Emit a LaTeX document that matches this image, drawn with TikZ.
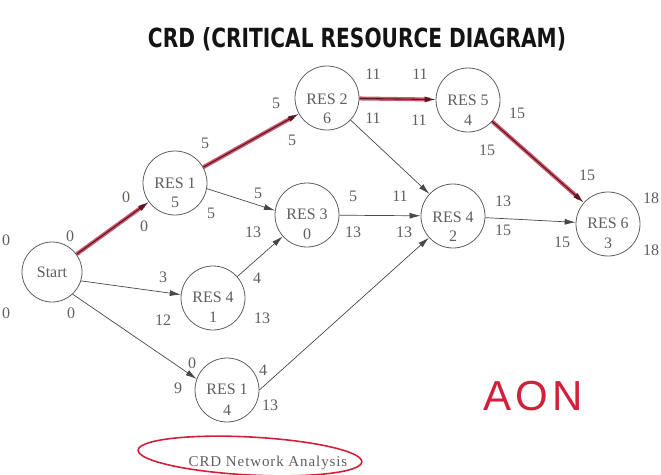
\documentclass[tikz,border=0pt]{standalone}
\usepackage{fontspec}
\setmainfont{Liberation Serif}
\setsansfont{DejaVu Sans}
\newfontfamily\handfont{Liberation Sans}
\usetikzlibrary{arrows.meta}

\definecolor{inkgray}{HTML}{5E5E5E}
\definecolor{linegray}{HTML}{484848}
\definecolor{critred}{HTML}{C83A52}
\definecolor{critdark}{HTML}{5A1822}
\definecolor{penred}{HTML}{D2203A}

% critical-path connector: red marker stroke under a dark line
\newcommand\critlink[2]{%
  \draw[critglow] (#1) -- (#2);
  \draw[critcore] (#1) -- (#2);}

\begin{document}
\begin{tikzpicture}[x=1pt,y=-1pt,
  every node/.style={text=inkgray, font=\fontsize{16}{16}\selectfont},
  res/.style={circle, draw=inkgray, line width=0.8pt, minimum size=64pt, inner sep=0pt},
  num/.style={inner sep=0pt},
  link/.style={draw=linegray, line width=0.7pt, -{Latex[length=11pt,width=6pt]}},
  critglow/.style={draw=critred, line width=4pt, shorten >=6pt, opacity=0.85},
  critcore/.style={draw=critdark, line width=1.1pt, -{Latex[length=11pt,width=6pt]}},
]
\useasboundingbox (0,0) rectangle (661,474);
\clip (0,0) rectangle (661,474);

% heading
\node[anchor=base, text=black!92] (title) at (357,47)
  {\resizebox{418pt}{20pt}{\sffamily\bfseries CRD (CRITICAL RESOURCE DIAGRAM)}};

% activity circles
\node[res, minimum size=60pt] (start) at (52,272) {Start};
\node[res] (r1a) at (175,183) {};
\node[res] (r2)  at (327,98)  {};
\node[res] (r5)  at (468,100) {};
\node[res] (r3)  at (307,215) {};
\node[res] (r4a) at (453,216) {};
\node[res] (r6)  at (608,224) {};
\node[res] (r4b) at (213,298) {};
\node[res] (r1b) at (227,390) {};

% resource names and durations
\node[num] (r1a-t) at (175,183) {RES 1}; \node[num] (r1a-d) at (175,202) {5};
\node[num] (r2-t)  at (327,99)  {RES 2}; \node[num] (r2-d)  at (327,118) {6};
\node[num] (r5-t)  at (468,100) {RES 5}; \node[num] (r5-d)  at (468,120) {4};
\node[num] (r3-t)  at (307,214) {RES 3}; \node[num] (r3-d)  at (307,234) {0};
\node[num] (r4a-t) at (453,217) {RES 4}; \node[num] (r4a-d) at (453,236) {2};
\node[num] (r6-t)  at (608,223) {RES 6}; \node[num] (r6-d)  at (608,243) {3};
\node[num] (r4b-t) at (213,297) {RES 4}; \node[num] (r4b-d) at (213,317) {1};
\node[num] (r1b-t) at (227,389) {RES 1}; \node[num] (r1b-d) at (227,410) {4};

% connectors
\critlink{start}{r1a}
\critlink{r1a}{r2}
\critlink{r2}{r5}
\critlink{r5}{r6}
\draw[link] (r1a.-10) -- (r3.172);
\draw[link] (start.-17) -- (r4b.174);
\draw[link] (start.-47) -- (r1b.160);
\draw[link] (r4b) -- (r3);
\draw[link] (r3) -- (r4a);
\draw[link] (r2) -- (r4a);
\draw[link] (r1b.east) -- (r4a);
\draw[link] (r4a) -- (r6);

% start and finish times
\node[num] (s-a) at (6,240) {0};
\node[num] (s-b) at (70,236) {0};
\node[num] (s-c) at (6,313) {0};
\node[num] (s-d) at (71,313) {0};
\node[num] (a-a) at (126,197) {0};
\node[num] (a-b) at (144,226) {0};
\node[num] (a-c) at (205,143) {5};
\node[num] (a-d) at (211,213) {5};
\node[num] (b-a) at (276,103) {5};
\node[num] (b-b) at (292,140) {5};
\node[num] (b-c) at (373,74)  {11};
\node[num] (b-d) at (373,118) {11};
\node[num] (c-a) at (420,74)  {11};
\node[num] (c-b) at (419,120) {11};
\node[num] (c-c) at (517,113) {15};
\node[num] (c-d) at (487,150) {15};
\node[num] (d-a) at (258,193) {5};
\node[num] (d-b) at (253,232) {13};
\node[num] (d-c) at (353,196) {5};
\node[num] (d-d) at (353,232) {13};
\node[num] (e-a) at (400,196) {11};
\node[num] (e-b) at (404,232) {13};
\node[num] (e-c) at (503,201) {13};
\node[num] (e-d) at (503,230) {15};
\node[num] (f-a) at (587,175) {15};
\node[num] (f-b) at (562,242) {15};
\node[num] (f-c) at (651,198) {18};
\node[num] (f-d) at (651,250) {18};
\node[num] (g-a) at (163,277) {3};
\node[num] (g-b) at (163,320) {12};
\node[num] (g-c) at (257,278) {4};
\node[num] (g-d) at (262,318) {13};
\node[num] (h-a) at (192,363) {0};
\node[num] (h-b) at (178,388) {9};
\node[num] (h-c) at (263,370) {4};
\node[num] (h-d) at (270,405) {13};

% handwritten notes
\node[text=penred, font=\handfont\fontsize{42}{42}\selectfont] (aon) at (533,396)
  {A\hspace{4pt}O\hspace{4pt}N};
\draw[penred, line width=1.6pt, rotate around={-3:(250,456)}]
  (250,456) ellipse [x radius=112, y radius=19];
\node[font=\fontsize{15}{15}\selectfont] (caption) at (268,463)
  {\addfontfeatures{LetterSpace=6}CRD Network Analysis};
\end{tikzpicture}
\end{document}
